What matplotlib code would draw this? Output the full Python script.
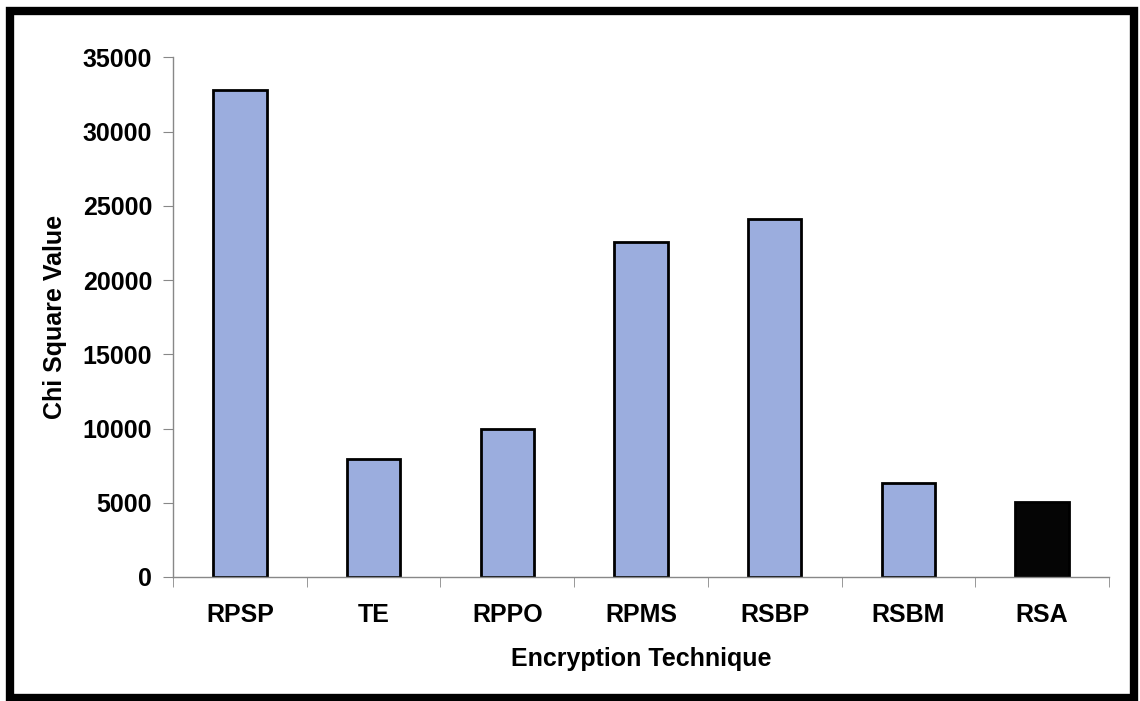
import matplotlib
matplotlib.use("Agg")
import matplotlib.pyplot as plt
from matplotlib.patches import Rectangle

plt.rcParams['font.family'] = ['Liberation Sans', 'DejaVu Sans']

# chi square value per encryption technique
techniques = ["RPSP", "TE", "RPPO", "RPMS", "RSBP", "RSBM", "RSA"]
chi_square = [32800, 7930, 9970, 22550, 24100, 6310, 5030]
bar_colors = ["#9badde"] * 6 + ["#050505"]

fig = plt.figure(figsize=(11.4, 7.01), dpi=100)
ax = fig.add_axes([0.1518, 0.1769, 0.8210, 0.7411])

x = range(len(techniques))
ax.bar(x, chi_square, width=0.4, color=bar_colors, edgecolor="black", linewidth=2)

ax.set_xlim(-0.5, len(techniques) - 0.5)
ax.set_ylim(0, 35000)
ax.set_yticks(range(0, 35001, 5000))
ax.set_xticks(list(x))
ax.set_xticklabels(techniques, fontsize=18, fontweight="bold")
ax.tick_params(axis="x", length=0, pad=19)
ax.set_xticks([i - 0.5 for i in range(len(techniques) + 1)], minor=True)
ax.tick_params(axis="x", which="minor", length=7, color="#888888", direction="out")
ax.tick_params(axis="y", labelsize=18, length=7, color="#888888", pad=8)
for lbl in ax.get_yticklabels():
    lbl.set_fontweight("bold")

for side in ["top", "right"]:
    ax.spines[side].set_visible(False)
for side in ["left", "bottom"]:
    ax.spines[side].set_color("#888888")
    ax.spines[side].set_linewidth(1)

ax.set_xlabel("Encryption Technique", fontsize=18, fontweight="bold", labelpad=14)
ax.set_ylabel("Chi Square Value", fontsize=18, fontweight="bold", labelpad=11)

# thick outer frame around the chart
fig.patches.append(Rectangle((0.0085, 0.0045), 0.986, 0.98, transform=fig.transFigure,
                             fill=False, edgecolor="black", linewidth=6))

fig.savefig("out.png", dpi=100)
